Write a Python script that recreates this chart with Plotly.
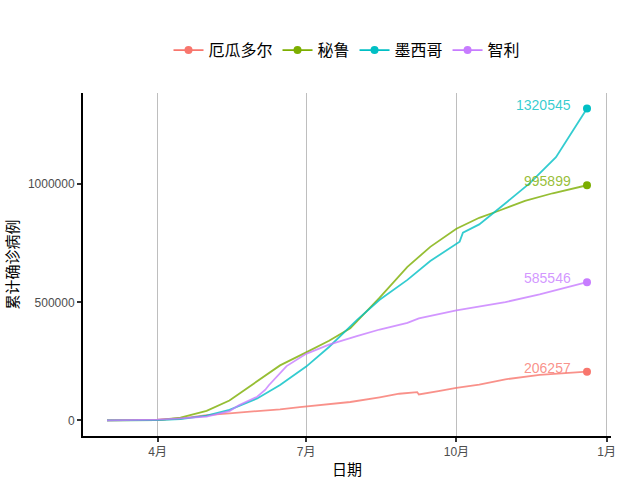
import pandas as pd
import plotly.graph_objects as go

# ---- data ----
countries = ["厄瓜多尔", "秘鲁", "墨西哥", "智利"]
colors = ["#F8766D", "#7CAE00", "#00BFC4", "#C77CFF"]
line_colors = ["rgba(248,118,109,0.8)", "rgba(124,174,0,0.8)",
               "rgba(0,191,196,0.8)", "rgba(199,124,255,0.8)"]

ecuador_dates = ["2020-03-01", "2020-03-15", "2020-04-01", "2020-04-15", "2020-05-01",
                 "2020-05-15", "2020-06-01", "2020-06-15", "2020-06-27", "2020-07-15",
                 "2020-07-28", "2020-08-15", "2020-08-27", "2020-09-07", "2020-09-08",
                 "2020-09-20", "2020-10-01", "2020-10-15", "2020-10-31", "2020-11-21",
                 "2020-12-20"]
ecuador_vals = [0, 30, 2800, 8000, 22000, 30000, 38000, 47000, 56000, 68000,
                78000, 98000, 113000, 120000, 110000, 124000, 138000, 152000,
                174000, 193000, 206257]

peru_dates = ["2020-03-01", "2020-03-15", "2020-04-01", "2020-04-15", "2020-05-01",
              "2020-05-15", "2020-05-29", "2020-06-15", "2020-07-01", "2020-07-15",
              "2020-07-28", "2020-08-15", "2020-09-01", "2020-09-15", "2020-10-01",
              "2020-10-15", "2020-10-27", "2020-11-12", "2020-11-29", "2020-12-20"]
peru_vals = [0, 40, 1100, 11500, 40500, 84500, 150000, 233000, 288000, 337000,
             390000, 520000, 650000, 735000, 812000, 858000, 888000, 930000,
             962000, 995899]

mexico_dates = ["2020-03-01", "2020-03-15", "2020-04-01", "2020-04-15", "2020-05-01",
                "2020-05-15", "2020-06-01", "2020-06-15", "2020-07-01", "2020-07-15",
                "2020-08-01", "2020-08-15", "2020-09-01", "2020-09-15", "2020-10-01",
                "2020-10-03", "2020-10-05", "2020-10-15", "2020-11-01", "2020-11-15",
                "2020-12-01", "2020-12-10", "2020-12-20"]
mexico_vals = [0, 40, 1200, 5400, 20700, 45000, 93000, 150000, 228000, 311000,
               425000, 511000, 595000, 675000, 750000, 757000, 795000, 830000,
               925000, 1005000, 1115000, 1215000, 1320545]

chile_dates = ["2020-03-01", "2020-03-15", "2020-04-01", "2020-04-15", "2020-05-01",
               "2020-05-15", "2020-05-21", "2020-06-01", "2020-06-06", "2020-06-08",
               "2020-06-19", "2020-07-01", "2020-07-15", "2020-08-01", "2020-08-15",
               "2020-09-01", "2020-09-08", "2020-10-01", "2020-10-31", "2020-11-21",
               "2020-12-20"]
chile_vals = [0, 75, 3000, 8300, 16000, 39500, 65000, 100000, 130000, 148000,
              230000, 282000, 321000, 357000, 385000, 413000, 432000, 466000,
              501000, 534000, 585546]

series_dates = [ecuador_dates, peru_dates, mexico_dates, chile_dates]
series_vals = [ecuador_vals, peru_vals, mexico_vals, chile_vals]

x_ticks = ["2020-04-01", "2020-07-01", "2020-10-01", "2021-01-01"]
x_ticktext = ["4月", "7月", "10月", "1月"]
y_ticks = [0, 500000, 1000000]
y_ticktext = ["0", "500000", "1000000"]

LATIN_CJK = "Arial, Liberation Sans, Noto Sans CJK SC, sans-serif"
CJK = "Noto Sans CJK SC, sans-serif"

fig = go.Figure()
for name, c, lc, ds, vs in zip(countries, colors, line_colors, series_dates, series_vals):
    d = pd.to_datetime(ds)
    fig.add_trace(go.Scatter(x=d, y=vs, mode="lines", line=dict(color=lc, width=1.8),
                             showlegend=False, legendgroup=name, hoverinfo="skip"))
    fig.add_trace(go.Scatter(x=[d[-1]], y=[vs[-1]], mode="markers",
                             marker=dict(color=c, size=8), showlegend=False,
                             legendgroup=name))
    # legend entry
    fig.add_trace(go.Scatter(x=[None], y=[None], mode="lines+markers", name=name,
                             line=dict(color=c, width=1.8), marker=dict(color=c, size=8),
                             legendgroup=name))
    fig.add_annotation(x=d[-1], y=vs[-1], text=str(vs[-1]), showarrow=False,
                       xanchor="right", yanchor="middle", xshift=-14, yshift=4,
                       font=dict(color=lc, size=14, family=LATIN_CJK))

all_dates = pd.to_datetime(sum(series_dates, []))
dmin, dmax = all_dates.min(), all_dates.max()
pad = (dmax - dmin) * 0.05
vmax = max(max(v) for v in series_vals)
vpad = vmax * 0.05

fig.update_layout(
    width=640, height=480,
    margin=dict(l=83, r=29, t=93, b=44, autoexpand=False),
    plot_bgcolor="white", paper_bgcolor="white",
    font=dict(family=LATIN_CJK, color="black"),
    legend=dict(orientation="h", x=0.5, xanchor="center", y=1.125, yanchor="middle",
                font=dict(size=16, family=CJK),
                itemwidth=30, traceorder="normal"),
    xaxis=dict(
        automargin=False,
        range=[dmin - pad, dmax + pad],
        tickvals=pd.to_datetime(x_ticks), ticktext=x_ticktext,
        showgrid=True, gridcolor="#BEBEBE", gridwidth=1,
        showline=True, linecolor="black", linewidth=2,
        ticks="outside", ticklen=4, tickwidth=1.5, tickcolor="#333333",
        tickfont=dict(size=12, color="#4D4D4D"),
        zeroline=False,
        title=dict(text="日期", font=dict(size=15, family=CJK), standoff=6),
    ),
    yaxis=dict(
        automargin=False,
        range=[-vpad, vmax + vpad],
        tickvals=y_ticks, ticktext=y_ticktext,
        showgrid=False, zeroline=False,
        showline=True, linecolor="black", linewidth=2,
        ticks="outside", ticklen=4, tickwidth=1.5, tickcolor="#333333",
        tickfont=dict(size=12, color="#4D4D4D"),
        title=dict(text="累计确诊病例", font=dict(size=15, family=CJK), standoff=6),
    ),
)

fig.write_html("out.html", config={"displayModeBar": False},
               post_script="document.body.style.margin='0';document.body.style.padding='0';")
